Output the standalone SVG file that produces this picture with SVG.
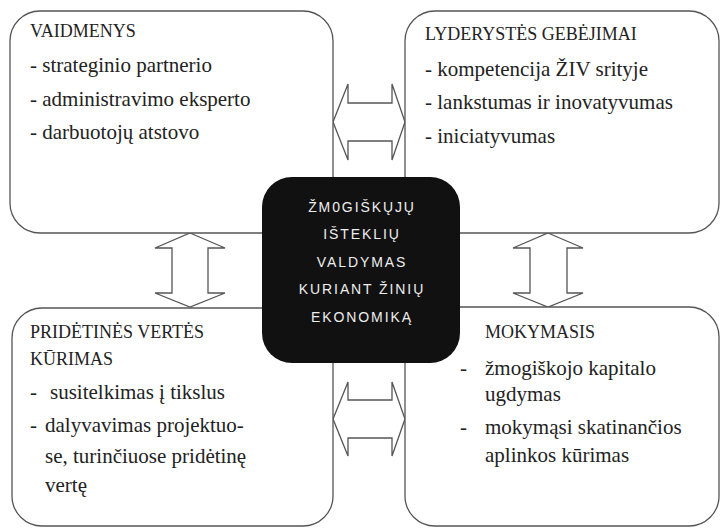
<svg xmlns="http://www.w3.org/2000/svg" width="720" height="528" viewBox="0 0 720 528">
<style>
.box{fill:#fff;stroke:#555;stroke-width:1.3}
.arr{fill:#fff;stroke:#555;stroke-width:1.3;stroke-linejoin:miter}
.h{font-size:18px;fill:#222}
.t{font-size:21px;fill:#222}
.c{font-family:'Liberation Sans',Arial,sans-serif;font-size:14px;fill:#eee;letter-spacing:1.9px;text-anchor:middle}
</style>
<rect width="720" height="528" fill="#fff"/>
<g id="connectors">
<polygon class="arr" points="333,122 348,84 348,103 392,103 392,84 405,122 392,160 392,141 348,141 348,160"/>
<polygon class="arr" points="333,419 348,382 348,400 392,400 392,382 405,419 392,456 392,438 348,438 348,456"/>
<polygon class="arr" points="190,233 225,248 208,248 208,293 225,293 190,307 155,293 172,293 172,248 155,248"/>
<polygon class="arr" points="548,233 583,248 567,248 567,293 583,293 548,307 513,293 530,293 530,248 513,248"/>
</g>
<g id="vaidmenys" font-family="Liberation Serif, Times New Roman, serif">
<rect class="box" x="10" y="11" width="323" height="222" rx="30"/>
<text class="h" x="30" y="37">VAIDMENYS</text>
<text class="t" x="30" y="72">- strateginio partnerio</text>
<text class="t" x="30" y="106">- administravimo eksperto</text>
<text class="t" x="30" y="139">- darbuotojų atstovo</text>
</g>
<g id="lyderystes" font-family="Liberation Serif, Times New Roman, serif">
<rect class="box" x="405" y="11" width="314" height="222" rx="30"/>
<text class="h" x="425" y="40">LYDERYSTĖS GEBĖJIMAI</text>
<text class="t" x="425" y="76">- kompetencija ŽIV srityje</text>
<text class="t" x="425" y="109">- lankstumas ir inovatyvumas</text>
<text class="t" x="425" y="143">- iniciatyvumas</text>
</g>
<g id="pridetines" font-family="Liberation Serif, Times New Roman, serif">
<rect class="box" x="12" y="308" width="321" height="218" rx="30"/>
<text class="h" x="30" y="338">PRIDĖTINĖS VERTĖS</text>
<text class="h" x="30" y="365">KŪRIMAS</text>
<text class="t" x="30" y="399">-<tspan x="50">susitelkimas į tikslus</tspan></text>
<text class="t" x="30" y="432">-<tspan x="45">dalyvavimas projektuo-</tspan></text>
<text class="t" x="45" y="463">se, turinčiuose pridėtinę</text>
<text class="t" x="45" y="492">vertę</text>
</g>
<g id="mokymasis" font-family="Liberation Serif, Times New Roman, serif">
<rect class="box" x="405" y="307" width="314" height="219" rx="30"/>
<text class="h" x="485" y="338">MOKYMASIS</text>
<text class="t" x="460" y="375">-<tspan x="485">žmogiškojo kapitalo</tspan></text>
<text class="t" x="485" y="401">ugdymas</text>
<text class="t" x="460" y="434">-<tspan x="485">mokymąsi skatinančios</tspan></text>
<text class="t" x="485" y="462">aplinkos kūrimas</text>
</g>
<g id="center">
<rect x="262" y="177" width="198" height="186" rx="30" fill="#111"/>
<text class="c" x="362" y="212">ŽM0GIŠKŲJŲ</text>
<text class="c" x="362" y="239">IŠTEKLIŲ</text>
<text class="c" x="362" y="267">VALDYMAS</text>
<text class="c" x="362" y="294">KURIANT ŽINIŲ</text>
<text class="c" x="362" y="322">EKONOMIKĄ</text>
</g>
</svg>
